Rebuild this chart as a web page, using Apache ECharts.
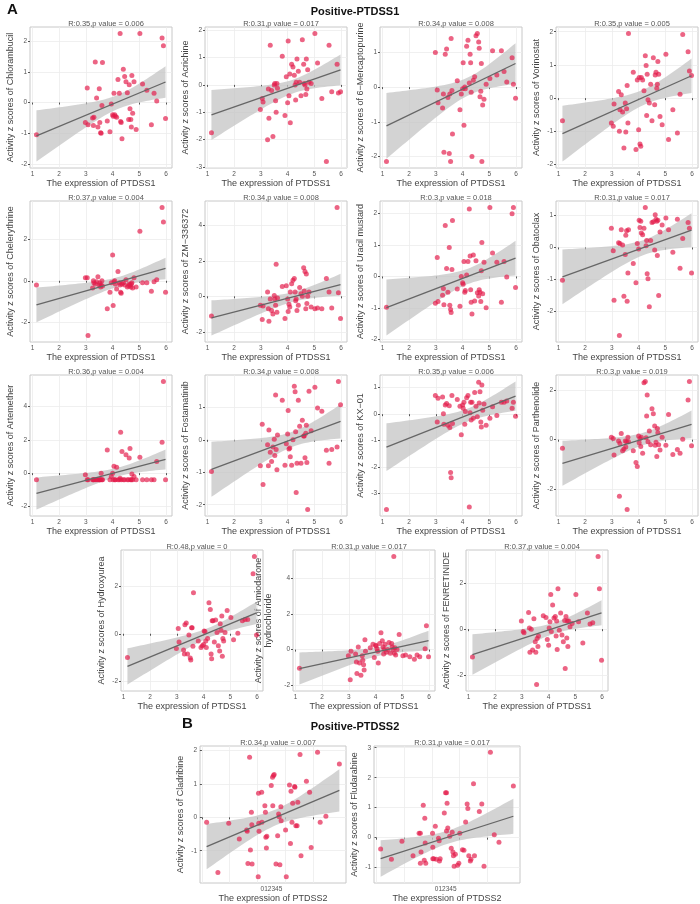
<!DOCTYPE html>
<html>
<head>
<meta charset="utf-8">
<title>PTDSS correlations</title>
<script src="https://cdn.jsdelivr.net/npm/echarts@6/dist/echarts.min.js"></script>
</head>
<body style="margin:0">
<div id="main" style="width:700px;height:904px;"></div>
<script type="text/javascript">
// expression of PTDSS1 (shared by all panels of part A)
var ptdss1 = [1.15,2.98,3.05,3.08,3.25,3.28,3.3,3.35,3.4,3.45,
  3.5,3.52,3.55,3.57,3.6,3.62,3.8,3.9,3.95,4.0,
  4.02,4.05,4.08,4.1,4.15,4.2,4.25,4.28,4.3,4.32,
  4.35,4.4,4.45,4.5,4.55,4.6,4.62,4.65,4.68,4.7,
  4.72,4.75,4.8,4.88,5.02,5.12,5.28,5.45,5.55,5.65,
  5.85,5.9,5.98];

var drugsA = ['Chlorambucil','Acrichine','6\u2212Mercaptopurine','Vorinostat','Chelerythrine','ZM\u2212336372',
  'Uracil mustard','Obatoclax','Artemether','Fostamatinib','KX\u221201','Parthenolide',
  'Hydroxyurea','Amiodarone\nhydrochloride','FENRETINIDE'];
var statsA = ['R:0.35,p value = 0.006','R:0.31,p value = 0.017','R:0.34,p value = 0.008','R:0.35,p value = 0.005',
  'R:0.37,p value = 0.004','R:0.34,p value = 0.008','R:0.3,p value = 0.018','R:0.31,p value = 0.017',
  'R:0.36,p value = 0.004','R:0.34,p value = 0.008','R:0.35,p value = 0.006','R:0.3,p value = 0.019',
  'R:0.48,p value = 0','R:0.31,p value = 0.017','R:0.37,p value = 0.004'];

var chlorambucil = [-1.05,-0.65,0.47,-0.72,-0.5,-0.75,-0.48,1.32,0.15,-0.8,0.45,-0.65,-0.98,-1.0,-0.1,1.3,-0.6,-0.95,-0.05,-0.4,-0.45,0.3,-0.4,-0.45,-0.48,0.75,0.3,2.25,-0.62,-0.65,-1.18,1.08,0.85,0.68,0.32,-0.55,0.58,-0.2,-0.55,-0.8,0.88,-0.35,0.68,-0.88,2.25,0.6,0.4,-0.72,0.3,0.05,2.1,1.85,-0.52];
var acrichine = [-1.75,-0.9,-0.5,-0.62,-2.0,-0.15,-1.22,1.45,-0.2,-1.88,0.0,0.05,-0.58,-1.0,0.05,-0.12,1.05,-1.12,0.3,-0.65,1.6,-0.4,0.4,-1.38,0.75,0.65,0.35,0.0,-0.55,0.1,0.95,0.5,0.1,-0.4,1.65,0.75,0.05,0.0,-0.35,0.95,-0.15,0.55,0.1,0.05,1.88,0.8,-0.5,-2.8,1.45,-0.25,0.75,-0.3,-0.25];
var mercaptopurine = [-2.15,1.0,-0.08,-0.45,-0.6,-0.2,-1.88,0.95,1.1,-0.3,-1.92,-0.2,-2.15,1.4,-0.1,-1.35,0.18,-0.65,-0.2,-0.05,0.7,-1.1,0.0,-0.05,1.18,1.35,0.12,0.95,0.7,-0.15,-2.0,0.2,0.3,1.48,1.55,1.3,1.12,-0.28,-0.12,0.68,-2.15,-0.52,-0.35,0.08,0.25,1.05,0.35,1.05,0.45,0.15,0.85,0.08,-0.32];
var vorinostat = [-0.68,-0.75,-0.85,-0.18,0.2,-1.0,-0.35,0.1,-0.42,-1.5,-0.15,-1.02,-0.32,0.38,-0.75,1.95,0.78,-1.55,0.55,-0.95,0.62,-1.38,-1.45,0.62,0.55,0.22,1.28,0.98,-0.52,0.72,-0.05,-0.15,0.42,-0.68,1.22,-0.2,0.7,0.78,0.3,0.42,1.1,0.72,-0.55,-0.8,1.32,-1.25,-0.35,-1.05,0.12,1.92,1.4,0.82,0.68];
var chelerythrine = [-0.2,0.15,0.15,-2.65,-0.35,0.0,-0.1,-0.15,-0.05,0.2,-0.2,-0.1,-0.3,-0.2,0.0,-0.25,-1.35,-0.55,-0.1,1.25,-1.2,-0.05,0.0,-0.15,-0.4,0.45,-0.1,-0.2,-0.55,-0.6,-0.15,-0.1,-0.2,0.05,-0.3,-0.25,-0.15,-0.2,-0.3,-0.15,-0.1,-0.35,0.15,-0.3,2.4,-0.1,-0.1,-0.5,-0.05,0.05,3.55,2.85,-0.55];
var zm336372 = [-1.1,-0.5,-1.3,-0.55,0.25,-0.7,-1.4,-0.15,-0.8,-1.0,0.05,-0.15,-0.5,1.8,-0.9,-0.1,0.55,-1.25,0.6,-0.15,-0.85,-0.45,-0.6,0.25,0.7,0.9,1.0,0.25,-0.25,-0.15,-0.8,-0.5,0.5,0.15,0.0,1.6,0.3,1.4,-0.7,1.25,-0.4,0.0,0.25,-0.6,-0.7,-0.65,-0.7,1.0,0.25,-0.65,5.0,0.2,-1.25];
var uracilMustard = [-0.98,-0.85,0.6,-0.8,-0.6,-0.38,-0.9,1.62,0.25,-0.5,0.92,-0.92,-1.05,-1.15,0.22,1.78,-0.4,-0.95,0.0,-0.2,-0.25,0.48,-0.5,-0.45,0.05,0.48,2.15,0.65,-0.42,-0.82,-1.2,0.68,-0.78,0.5,-0.52,-0.62,-0.42,-0.5,-0.8,0.18,1.08,-0.55,0.45,-1.0,2.2,0.75,0.45,-0.82,0.48,-0.02,2.0,2.2,-0.35];
var obatoclax = [-1.02,0.6,-0.1,-1.65,0.15,-2.75,0.12,0.55,0.08,-1.52,-0.22,0.38,0.52,-1.68,-0.8,0.55,-0.5,-1.1,0.12,-0.05,0.85,0.62,0.82,0.45,0.4,0.6,1.25,0.05,0.22,-0.82,-0.98,-1.85,0.22,0.78,0.8,-0.08,1.02,0.88,0.82,-0.25,0.85,-1.5,0.48,0.7,0.92,0.55,-0.15,0.88,-0.65,0.28,0.78,0.6,-0.8];
var artemether = [-0.4,-0.1,-0.4,-0.4,-0.4,-0.4,-0.4,-0.4,-0.4,-0.4,-0.4,-0.4,-0.4,0.0,-0.4,-0.4,1.38,-0.4,-0.2,0.0,-0.4,0.42,-0.4,-0.4,0.35,-0.4,-0.4,-0.3,2.45,-0.4,1.3,-0.4,-0.4,1.1,-0.4,-0.4,0.9,1.48,-0.4,-0.4,-0.05,-0.4,-0.2,-0.4,0.95,-0.4,-0.4,-0.4,-0.4,0.7,1.85,5.5,-0.4];
var fostamatinib = [-0.98,-0.8,0.48,-1.38,-0.15,-0.8,0.3,-0.38,-0.67,-0.22,0.02,-0.48,1.38,-0.3,-0.92,0.15,1.22,-0.78,-0.12,0.18,0.9,-0.28,-0.25,-0.52,-0.78,0.0,1.65,1.48,0.25,-1.62,-0.72,1.22,0.42,-0.72,0.6,0.12,0.12,-0.55,0.2,0.45,-0.7,-2.15,1.5,0.28,1.62,0.98,0.88,-0.32,-0.72,-0.3,-0.22,1.8,1.08];
var kx01 = [-3.6,0.7,-0.3,0.6,0.65,0.02,-0.38,0.35,0.4,-0.42,0.32,-0.5,-2.2,-2.4,0.7,-0.35,0.55,0.3,-0.78,0.35,0.22,0.45,-0.38,0.1,0.62,0.7,-3.5,0.05,0.45,-0.22,0.45,-0.15,0.82,0.3,-0.1,1.2,0.42,0.85,-0.3,-0.48,1.1,0.15,0.38,-0.42,-0.15,0.28,-0.05,0.45,0.45,0.5,0.22,0.45,-0.08];
var parthenolide = [-0.35,0.1,0.05,-0.62,-0.05,-2.28,-0.15,0.25,-0.45,-0.38,-0.05,-0.3,-0.08,-2.82,0.1,-0.08,-0.45,-0.92,-1.08,0.15,-0.12,0.05,-0.28,0.1,-0.55,2.3,2.35,0.08,0.95,1.8,-0.08,0.35,-0.2,1.25,1.05,0.55,-0.22,-0.1,-0.68,0.45,0.28,-0.2,-0.42,0.1,-0.22,1.02,-0.6,-0.4,-0.55,0.02,1.6,2.35,-0.25];
var hydroxyurea = [-1.0,-0.62,0.22,-0.35,-0.68,-0.85,0.38,0.45,-0.85,-0.05,-1.02,-1.1,0.25,0.25,-0.52,1.72,-0.3,-0.58,-0.5,-0.45,0.12,0.1,-0.3,-0.58,-0.2,1.3,1.02,-0.85,-1.05,0.55,0.55,-0.35,0.58,0.05,-0.5,-0.72,0.42,0.15,0.75,-0.95,-0.2,-0.3,0.05,0.98,0.68,-0.25,0.02,0.55,0.6,0.6,2.52,3.25,-0.05];
var amiodarone = [-1.05,-0.35,-1.7,-0.1,-0.25,-0.7,-1.35,0.15,-0.75,-1.45,-0.35,-0.6,-0.85,-1.15,0.55,-0.1,0.1,0.3,-0.45,0.25,0.2,0.05,-0.1,-0.75,0.35,0.95,0.5,0.15,-0.25,0.0,0.3,-0.15,0.0,0.4,-0.2,0.35,0.15,0.0,5.25,-0.2,0.1,-0.3,0.0,0.85,-0.35,-0.3,-0.4,-0.55,-0.3,-0.4,0.05,1.35,-0.4];
var fenretinide = [-1.2,0.35,-0.1,-0.15,0.72,0.05,-1.0,0.0,-0.9,0.45,-0.55,-1.0,-2.4,-0.4,-0.75,-0.3,0.58,0.5,-0.45,-0.7,0.05,0.32,1.5,-0.1,1.05,0.48,0.55,-0.3,0.35,-0.88,1.75,-0.05,0.7,-0.25,-0.55,0.38,-1.7,0.55,-0.38,0.35,-0.75,0.35,0.1,0.25,1.5,0.32,-0.6,0.7,0.22,0.28,3.15,1.75,-1.35];
var valuesA = [chlorambucil,acrichine,mercaptopurine,vorinostat,chelerythrine,zm336372,uracilMustard,obatoclax,
  artemether,fostamatinib,kx01,parthenolide,hydroxyurea,amiodarone,fenretinide];

// part B (PTDSS2)
var cladribineX = [0.34,1.15,1.93,2.69,3.22,3.26,3.31,3.43,3.49,3.56,3.59,3.61,4.07,4.09,4.11,4.05,4.30,4.32,4.53,4.57,4.60,4.64,4.67,4.99,5.08,5.15,5.20,5.10,5.33,5.45,5.52,5.56,5.61,5.68,5.70,6.02,6.07,6.30,6.37,6.41,6.48,6.53,6.67,6.69,6.76,6.85,6.90,7.06,7.13,7.52,7.75,7.86,8.32,8.51,8.92,9.89];
var cladribineY = [-0.15,-1.65,-0.18,-0.65,-0.38,-0.42,-1.38,1.8,-0.98,0.15,-0.22,-1.4,0.72,-0.18,-0.42,-1.78,0.75,-0.15,0.35,0.15,-0.6,-0.92,-0.57,0.95,1.2,1.25,1.28,0.35,-1.4,-0.55,0.1,0.02,-1.42,0.32,-0.1,-0.38,-1.78,0.97,-0.78,0.78,-0.15,0.42,0.92,0.9,-0.25,-0.25,0.45,1.88,-1.15,1.08,0.75,-0.9,1.95,-0.15,0.03,1.6];
var fludarabineX = [0.30,1.08,1.84,2.64,3.17,3.22,3.38,3.45,3.49,3.52,3.56,3.08,3.17,4.05,4.07,4.07,4.14,4.25,4.32,4.48,4.53,4.55,4.60,4.90,4.99,5.06,5.10,5.06,5.15,5.29,5.40,5.47,5.52,5.56,5.61,5.70,5.86,5.95,6.02,6.21,6.32,6.44,6.55,6.60,6.67,6.78,6.83,7.01,7.08,7.43,7.61,7.77,8.23,8.51,8.85,9.89];
var fludarabineY = [-0.38,-0.72,-0.12,-0.6,-0.85,-0.48,1.08,-0.75,0.65,-0.18,-0.85,0.15,0.15,0.15,-0.32,-0.7,-0.7,0.38,-0.72,-0.02,-0.1,-0.78,-0.7,0.82,1.5,1.5,1.15,0.22,0.32,0.05,-0.35,0.18,-0.48,-0.6,-0.95,-0.55,-0.92,-0.85,0.15,-0.4,-0.42,0.52,1.12,0.97,-0.6,-0.78,-0.72,1.8,-0.6,0.87,1.12,-0.95,2.85,0.1,-0.15,1.72];
var statsB = ['R:0.34,p value = 0.007','R:0.31,p value = 0.017'];
var drugsB = ['Cladribine','Fludarabine'];

var rowTops = [27, 201, 375, 550];
var colLefts = [30, 205, 380, 556];
var row4Lefts = [121, 293, 466];
var FONT = 'Liberation Sans Narrow, Arial, sans-serif';

function fit(xs, ys) {
    var n = xs.length, mx = 0, my = 0;
    for (var i = 0; i < n; i++) { mx += xs[i]; my += ys[i]; }
    mx /= n; my /= n;
    var sxx = 0, sxy = 0;
    for (i = 0; i < n; i++) { sxx += (xs[i]-mx)*(xs[i]-mx); sxy += (xs[i]-mx)*(ys[i]-my); }
    var b = sxy / sxx, a = my - b*mx, sse = 0;
    for (i = 0; i < n; i++) { var r = ys[i] - a - b*xs[i]; sse += r*r; }
    var s = Math.sqrt(sse / (n-2));
    var x0 = Math.min.apply(null, xs), x1 = Math.max.apply(null, xs);
    var band = [];
    for (i = 0; i <= 40; i++) {
        var x = x0 + (x1-x0)*i/40, yh = a + b*x;
        var se = s*Math.sqrt(1/n + (x-mx)*(x-mx)/sxx);
        band.push([x, yh - 2.0*se, yh + 2.0*se]);
    }
    return {a: a, b: b, x0: x0, x1: x1, band: band};
}

var grids = [], xAxes = [], yAxes = [], series = [], titles = [];

function addPanel(left, top, w, h, xs, ys, drug, stat, isB) {
    var k = grids.length;
    var f = fit(xs, ys);
    var lo = Math.min.apply(null, ys), hi = Math.max.apply(null, ys);
    f.band.forEach(function (p) { lo = Math.min(lo, p[1]); hi = Math.max(hi, p[2]); });
    var pad = (hi-lo)*0.05;
    var ymin = lo-pad, ymax = hi+pad;
    var step = (hi-lo) > 5 ? 2 : 1;
    var yt = [];
    for (var v = Math.ceil(ymin/step)*step; v <= ymax; v += step) yt.push(v);
    var xmin = f.x0 - (f.x1-f.x0)*0.05, xmax = f.x1 + (f.x1-f.x0)*0.05;
    var xt = isB ? [0,2,4,6,8] : [1,2,3,4,5,6];
    grids.push({left: left, top: top, width: w, height: h, show: true, borderColor: '#c8c8c8', borderWidth: 1, backgroundColor: '#fff'});
    xAxes.push({
        gridIndex: k, type: 'value', min: xmin, max: xmax,
        name: isB ? 'The expression of PTDSS2' : 'The expression of PTDSS1',
        nameLocation: 'middle', nameGap: 11, nameTextStyle: {fontSize: 9, color: '#444', fontFamily: FONT},
        axisLine: {show: false},
        axisTick: {show: true, length: 2, lineStyle: {color: '#555'}, customValues: xt},
        axisLabel: isB ? {fontSize: 6.5, color: '#555', margin: 3, customValues: [5], formatter: function () { return '012345'; }}
                       : {fontSize: 6.5, color: '#555', margin: 3, customValues: xt},
        splitLine: {show: true, lineStyle: {color: '#ececec', width: 0.8}}
    });
    var two = drug.indexOf('\n') >= 0;
    yAxes.push({
        gridIndex: k, type: 'value', min: ymin, max: ymax,
        name: 'Activity z scores of ' + drug,
        nameLocation: 'middle', nameGap: two ? 19 : 14, nameRotate: 90,
        nameTextStyle: {fontSize: 9, color: '#444', fontFamily: FONT, lineHeight: 10},
        axisLine: {show: false},
        axisTick: {show: true, length: 2, lineStyle: {color: '#555'}, customValues: yt},
        axisLabel: {fontSize: 6.5, color: '#555', margin: 3, customValues: yt},
        splitLine: {show: true, lineStyle: {color: '#ececec', width: 0.8}}
    });
    titles.push({text: stat, left: left + w/2, top: top - 12, textAlign: 'center',
        textStyle: {fontSize: 7.5, fontWeight: 'normal', color: '#555', fontFamily: FONT}});
    series.push({
        type: 'custom', xAxisIndex: k, yAxisIndex: k, data: [0], silent: true, z: 1,
        renderItem: function (params, api) {
            var up = f.band.map(function (p) { return api.coord([p[0], p[2]]); });
            var dn = f.band.map(function (p) { return api.coord([p[0], p[1]]); }).reverse();
            return {type: 'polygon', shape: {points: up.concat(dn)}, style: {fill: '#c4c4c4', opacity: 0.75}};
        }
    });
    series.push({
        type: 'scatter', xAxisIndex: k, yAxisIndex: k, symbolSize: 5, z: 2,
        itemStyle: {color: '#e31a4a', opacity: 0.68},
        data: xs.map(function (x, i) { return [x, ys[i]]; })
    });
    series.push({
        type: 'line', xAxisIndex: k, yAxisIndex: k, showSymbol: false, z: 3,
        lineStyle: {color: '#666', width: 1.3},
        data: [[f.x0, f.a + f.b*f.x0], [f.x1, f.a + f.b*f.x1]]
    });
}

for (var i = 0; i < 15; i++) {
    var r = Math.floor(i/4), c = i % 4;
    var left = r < 3 ? colLefts[c] : row4Lefts[c];
    addPanel(left, rowTops[r], 142, 141, ptdss1, valuesA[i], drugsA[i], statsA[i], false);
}
addPanel(200, 746, 146, 139, cladribineX, cladribineY, drugsB[0], statsB[0], true);
addPanel(374, 746, 146, 139, fludarabineX, fludarabineY, drugsB[1], statsB[1], true);

titles.push({text: 'A', left: 2, top: -3, textStyle: {fontSize: 15, fontWeight: 'bold', color: '#111', fontFamily: FONT}});
titles.push({text: 'Positive-PTDSS1', left: 350, top: 1, textAlign: 'center', textStyle: {fontSize: 11, fontWeight: 'bold', color: '#111', fontFamily: FONT}});
titles.push({text: 'B', left: 177, top: 711, textStyle: {fontSize: 15, fontWeight: 'bold', color: '#111', fontFamily: FONT}});
titles.push({text: 'Positive-PTDSS2', left: 350, top: 716, textAlign: 'center', textStyle: {fontSize: 11, fontWeight: 'bold', color: '#111', fontFamily: FONT}});

var myChart = echarts.init(document.getElementById('main'));
myChart.setOption({
    animation: false,
    backgroundColor: '#fff',
    title: titles,
    grid: grids,
    xAxis: xAxes,
    yAxis: yAxes,
    series: series
});
</script>
</body>
</html>
